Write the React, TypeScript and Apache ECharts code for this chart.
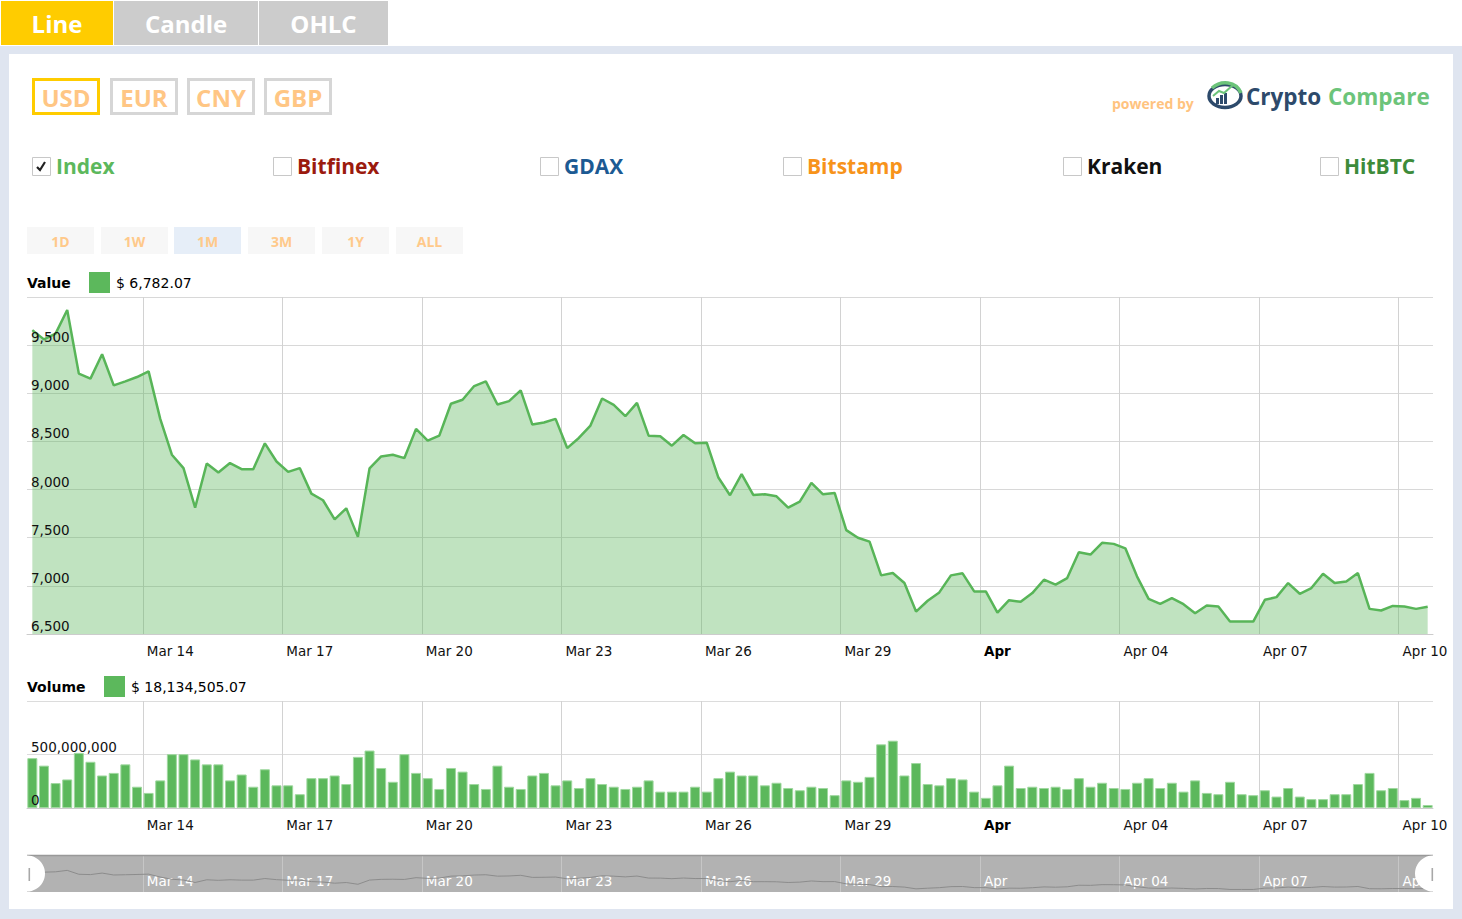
import React, { useEffect, useRef } from "react";
import * as echarts from "echarts";

// ---- time base (6-hour points) ----
const START_UTC = Date.UTC(2018, 2, 11, 15, 0);
const STEP_MS = 6 * 3600 * 1000;
const UNIT_MS = 3 * 24 * 3600 * 1000; // x unit = 3 days (one grid step)
const EDGE_MS = 2.75 * 3600 * 1000;

// ---- data ----
const PRICE = [
  9656, 9560, 9620, 9865, 9204, 9152, 9406, 9082, 9124, 9169,
  9228, 8734, 8362, 8223, 7812, 8271, 8177, 8275, 8212, 8212,
  8480, 8292, 8184, 8223, 7958, 7889, 7690, 7805, 7509, 8219,
  8344, 8362, 8327, 8630, 8508, 8560, 8891, 8933, 9075, 9124,
  8884, 8919, 9030, 8675, 8696, 8734, 8431, 8536, 8665, 8946,
  8880, 8762, 8901, 8560, 8553, 8456, 8567, 8480, 8487, 8125,
  7941, 8160, 7944, 7951, 7930, 7812, 7875, 8069, 7951, 7965,
  7579, 7499, 7460, 7109, 7133, 7029, 6733, 6845, 6932, 7109,
  7130, 6942, 6942, 6723, 6851, 6834, 6925, 7064, 7012, 7081,
  7349, 7325, 7447, 7436, 7390, 7099, 6865, 6813, 6872, 6810,
  6716, 6796, 6785, 6629, 6629, 6629, 6855, 6883, 7029, 6918,
  6977, 7126, 7029, 7046, 7133, 6761, 6744, 6792, 6785, 6761,
  6782.07,
];

const VOLUME_MILLIONS = [
  466, 396, 233, 267, 515, 432, 304, 328, 408, 199,
  141, 258, 503, 503, 454, 408, 408, 258, 313, 199,
  362, 212, 212, 129, 279, 279, 304, 224, 478, 537,
  374, 245, 503, 328, 279, 178, 374, 340, 224, 178,
  396, 199, 178, 304, 328, 212, 258, 187, 279, 224,
  199, 178, 199, 258, 153, 153, 153, 199, 153, 279,
  340, 304, 304, 212, 236, 187, 166, 199, 187, 120,
  258, 245, 291, 595, 629, 304, 420, 224, 212, 279,
  267, 153, 95, 212, 396, 187, 199, 187, 199, 178,
  279, 199, 236, 187, 178, 236, 279, 187, 236, 153,
  258, 141, 129, 245, 129, 120, 166, 107, 187, 107,
  83, 83, 129, 129, 224, 328, 166, 187, 74, 95,
  28,
];

const PRICE_AXIS = { min: 6500, max: 10000, step: 500 };
const VOLUME_AXIS = { min: 0, max: 1000000000, step: 500000000 };
const NAV_AXIS = { min: 6200, max: 12300 };

const MONTHS = ["Jan", "Feb", "Mar", "Apr", "May", "Jun", "Jul", "Aug", "Sep", "Oct", "Nov", "Dec"];
const TABS = ["Line", "Candle", "OHLC"];
const CURRENCIES = ["USD", "EUR", "CNY", "GBP"];
const EXCHANGES = ["Index", "Bitfinex", "GDAX", "Bitstamp", "Kraken", "HitBTC"];
const EXCHANGE_COLORS = ["#5cb85c", "#9b1a0e", "#1c5a93", "#f7931a", "#111111", "#3d8b3a"];
const RANGES = ["1D", "1W", "1M", "3M", "1Y", "ALL"];
const LAST_VALUE = "$ 6,782.07";
const LAST_VOLUME = "$ 18,134,505.07";

const UI_FONT = '"Open Sans", "Noto Sans", sans-serif';
const AX_FONT = '"DejaVu Sans", Verdana, sans-serif';
const GREEN = "#5cb85c";

const X_MIN = (START_UTC - EDGE_MS) / UNIT_MS;
const X_MAX = (START_UTC + (PRICE.length - 1) * STEP_MS + EDGE_MS) / UNIT_MS;
const xOf = (i: number) => (START_UTC + i * STEP_MS) / UNIT_MS;

function dateLabel(v: number, boldMonth: boolean) {
  const d = new Date(Math.round(v * UNIT_MS));
  const m = MONTHS[d.getUTCMonth()];
  const day = d.getUTCDate();
  if (day === 1) return boldMonth ? `{b|${m}}` : m;
  return `${m} ${String(day).padStart(2, "0")}`;
}

function txt(text: string, x: number, y: number, opt: any) {
  const align = opt.align || "left";
  return {
    type: "text",
    x,
    y,
    z: opt.z ?? 20,
    style: {
      text,
      fill: opt.fill,
      fontSize: opt.fontSize,
      fontWeight: opt.fontWeight || "normal",
      fontFamily: opt.fontFamily || UI_FONT,
      align,
      textAlign: align,
      verticalAlign: "middle",
      textVerticalAlign: "middle",
    },
  };
}

function buildGraphics() {
  const g: any[] = [];
  g.push({ type: "rect", z: -10, shape: { x: 0, y: 46, width: 1462, height: 873 }, style: { fill: "#dfe5f0" } });
  g.push({ type: "rect", z: -9, shape: { x: 9, y: 54, width: 1444, height: 855 }, style: { fill: "#ffffff" } });

  // tabs
  const tabBox = [
    [1, 112],
    [114, 144],
    [259, 129],
  ];
  TABS.forEach((t, i) => {
    g.push({
      type: "rect",
      z: 5,
      shape: { x: tabBox[i][0], y: 1, width: tabBox[i][1], height: 44 },
      style: { fill: i === 0 ? "#ffcc00" : "#cccccc" },
    });
    g.push(txt(t, tabBox[i][0] + tabBox[i][1] / 2, 23, { fill: "#ffffff", fontSize: 24, fontWeight: 700, align: "center" }));
  });

  // currencies
  const curX = [32, 110, 187, 264];
  CURRENCIES.forEach((c, i) => {
    g.push({
      type: "rect",
      z: 5,
      shape: { x: curX[i] + 1.5, y: 79.5, width: 65, height: 34 },
      style: { fill: "#ffffff", stroke: i === 0 ? "#ffcc00" : "#d6d6d6", lineWidth: 3 },
    });
    g.push(txt(c, curX[i] + 34, 97, { fill: "#ffc684", fontSize: 24, fontWeight: 700, align: "center" }));
  });

  // powered by + logo
  g.push(txt("powered by", 1112, 103, { fill: "#ffc37f", fontSize: 14, fontWeight: 700 }));
  g.push({
    type: "ellipse",
    z: 5,
    shape: { cx: 1225, cy: 96, rx: 16, ry: 11.5 },
    style: { fill: "none", stroke: "#2d4a6b", lineWidth: 3.5 },
  });
  g.push({
    type: "bezierCurve",
    z: 6,
    shape: { x1: 1212, y1: 88, cpx1: 1221, cpy1: 80, cpx2: 1236, cpy2: 81, x2: 1241, y2: 93 },
    style: { fill: "none", stroke: "#6cc47a", lineWidth: 3.5 },
  });
  [
    [1216, 98, 6],
    [1220, 95, 9],
    [1224, 93, 11],
  ].forEach(([x, y, h]) => {
    g.push({ type: "rect", z: 6, shape: { x, y, width: 3, height: h }, style: { fill: "#2d4a6b" } });
  });
  g.push({
    type: "polyline",
    z: 7,
    shape: { points: [[1213, 96], [1219, 91], [1224, 93], [1233, 85]] },
    style: { fill: "none", stroke: "#6cc47a", lineWidth: 2 },
  });
  g.push(txt("Crypto", 1246, 96, { fill: "#2d4a6b", fontSize: 22.5, fontWeight: 700 }));
  g.push(txt("Compare", 1328, 96, { fill: "#6cc47a", fontSize: 22.5, fontWeight: 700 }));

  // exchanges
  const exX = [32, 273, 540, 783, 1063, 1320];
  EXCHANGES.forEach((e, i) => {
    g.push({
      type: "rect",
      z: 5,
      shape: { x: exX[i] + 0.5, y: 157.5, width: 18, height: 18 },
      style: { fill: "#ffffff", stroke: "#c8c8c8", lineWidth: 1 },
    });
    if (i === 0) {
      g.push({
        type: "polyline",
        z: 6,
        shape: { points: [[exX[i] + 5, 167], [exX[i] + 8, 170], [exX[i] + 13, 162]] },
        style: { fill: "none", stroke: "#222222", lineWidth: 2.2 },
      });
    }
    g.push(txt(e, exX[i] + 24, 166, { fill: EXCHANGE_COLORS[i], fontSize: 21, fontWeight: 700 }));
  });

  // ranges
  const rX = [27, 101, 174, 248, 322, 396];
  RANGES.forEach((r, i) => {
    g.push({
      type: "rect",
      z: 5,
      shape: { x: rX[i], y: 227, width: 67, height: 27 },
      style: { fill: i === 2 ? "#e6eef8" : "#f7f7f7" },
    });
    g.push(txt(r, rX[i] + 33.5, 241, { fill: "#ffc98a", fontSize: 14, fontWeight: 700, align: "center" }));
  });

  // panel headers
  g.push(txt("Value", 27, 283, { fill: "#000000", fontSize: 14, fontWeight: 700, fontFamily: AX_FONT }));
  g.push({ type: "rect", z: 5, shape: { x: 89, y: 272, width: 21, height: 21 }, style: { fill: GREEN } });
  g.push(txt(LAST_VALUE, 116, 283, { fill: "#000000", fontSize: 14, fontFamily: AX_FONT }));
  g.push(txt("Volume", 27, 687, { fill: "#000000", fontSize: 14, fontWeight: 700, fontFamily: AX_FONT }));
  g.push({ type: "rect", z: 5, shape: { x: 104, y: 676, width: 21, height: 21 }, style: { fill: GREEN } });
  g.push(txt(LAST_VOLUME, 131, 687, { fill: "#000000", fontSize: 14, fontFamily: AX_FONT }));

  // navigator border + handles
  g.push({
    type: "line",
    z: 50,
    shape: { x1: 27, y1: 855.5, x2: 1433, y2: 855.5 },
    style: { stroke: "#999999", lineWidth: 1.5 },
  });
  [27, 1433].forEach((cx, i) => {
    g.push({ type: "circle", z: 100, shape: { cx, cy: 873.5, r: 18 }, style: { fill: "#ffffff" } });
    g.push({
      type: "rect",
      z: 101,
      shape: { x: i === 0 ? 28.5 : 1431.5, y: 868, width: 1.6, height: 13 },
      style: { fill: "#a8a8a8" },
    });
  });
  return g;
}

function xAxisFor(gridIndex: number, nav: boolean) {
  return {
    type: "value",
    gridIndex,
    min: X_MIN,
    max: X_MAX,
    minInterval: 1,
    maxInterval: 1,
    splitNumber: 10,
    z: nav ? 1 : 0,
    axisTick: { show: false },
    axisLine: { show: !nav, lineStyle: { color: "#cccccc" } },
    splitLine: {
      show: true,
      showMinLine: false,
      showMaxLine: false,
      lineStyle: { color: nav ? "#c6c6c6" : "#d2d2d2", width: 1 },
    },
    axisLabel: {
      show: true,
      showMinLabel: false,
      showMaxLabel: false,
      hideOverlap: false,
      inside: nav,
      margin: nav ? 4 : 10,
      align: "left",
      padding: [0, 0, 0, 4],
      fontFamily: AX_FONT,
      fontSize: 13.5,
      color: nav ? "#ffffff" : "#111111",
      formatter: (v: number) => dateLabel(v, !nav),
      rich: { b: { fontFamily: AX_FONT, fontSize: 13.5, fontWeight: "bold", color: "#000000" } },
    },
  };
}

function yGridAxis(gridIndex: number, a: { min: number; max: number; step: number }, color: string) {
  return {
    type: "value",
    gridIndex,
    position: "left",
    min: a.min,
    max: a.max,
    interval: a.step,
    axisLine: { show: false },
    axisTick: { show: false },
    axisLabel: { show: false },
    splitLine: { show: true, lineStyle: { color, width: 1 } },
  };
}

function yLabelAxis(gridIndex: number, a: { min: number; max: number; step: number }) {
  return {
    type: "value",
    gridIndex,
    position: "left",
    offset: 0,
    min: a.min,
    max: a.max,
    interval: a.step,
    z: 10,
    axisLine: { show: false },
    axisTick: { show: false },
    splitLine: { show: false },
    axisLabel: {
      inside: true,
      margin: 4,
      verticalAlign: "bottom",
      padding: [0, 0, 1, 0],
      showMaxLabel: false,
      fontFamily: AX_FONT,
      fontSize: 13.5,
      color: "#111111",
      formatter: (v: number) => v.toLocaleString("en-US"),
    },
  };
}

export default function App() {
  const ref = useRef<HTMLDivElement>(null);
  useEffect(() => {
    if (!ref.current) return;
    const chart = echarts.init(ref.current, undefined, { renderer: "svg" });
    const priceData = PRICE.map((v, i) => [xOf(i), v]);
    const volumeData = VOLUME_MILLIONS.map((v, i) => [xOf(i), v * 1e6]);
    chart.setOption({
      animation: false,
      backgroundColor: "#ffffff",
      graphic: { elements: buildGraphics() },
      grid: [
        { left: 27, top: 297, width: 1406, height: 337 },
        { left: 27, top: 701, width: 1406, height: 107 },
        { left: 27, top: 856, width: 1406, height: 36, show: true, backgroundColor: "#b2b2b2", borderWidth: 0 },
      ],
      xAxis: [xAxisFor(0, false), xAxisFor(1, false), xAxisFor(2, true)],
      yAxis: [
        yGridAxis(0, PRICE_AXIS, "#d8d8d8"),
        yLabelAxis(0, PRICE_AXIS),
        yGridAxis(1, VOLUME_AXIS, "#dcdcdc"),
        yLabelAxis(1, VOLUME_AXIS),
        { type: "value", gridIndex: 2, min: NAV_AXIS.min, max: NAV_AXIS.max, show: false, splitLine: { show: false } },
      ],
      series: [
        {
          type: "line",
          name: "Value",
          xAxisIndex: 0,
          yAxisIndex: 0,
          data: priceData,
          symbol: "none",
          lineStyle: { color: "#58b558", width: 2.5 },
          areaStyle: { color: GREEN, opacity: 0.39, origin: "start" },
        },
        {
          type: "bar",
          name: "Volume",
          xAxisIndex: 1,
          yAxisIndex: 2,
          data: volumeData,
          barWidth: 10,
          itemStyle: { color: GREEN, borderColor: "#9fd89f", borderWidth: 1 },
        },
        {
          type: "line",
          name: "Navigator",
          xAxisIndex: 2,
          yAxisIndex: 4,
          data: priceData,
          symbol: "none",
          lineStyle: { color: "#8c8c8c", width: 1 },
        },
      ],
    });
    return () => chart.dispose();
  }, []);
  return <div ref={ref} style={{ position: "fixed", left: 0, top: 0, width: 1462, height: 919 }} />;
}
